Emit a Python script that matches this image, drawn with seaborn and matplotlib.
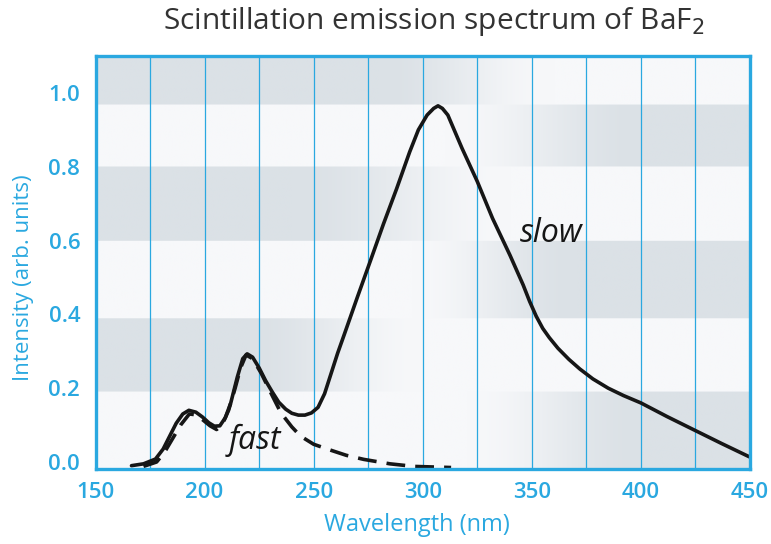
import numpy as np
import pandas as pd
import matplotlib
matplotlib.use("Agg")
import matplotlib.pyplot as plt
import seaborn as sns
from matplotlib.colors import to_rgb

# ---- data ----
slow_wavelength = [166.5, 172, 177.5, 181, 184, 187, 190, 192.8, 196, 199, 202, 204.5,
                   207, 209.5, 212, 215, 217.5, 219.5, 222, 225, 228, 231, 234, 237.2,
                   240, 243, 246, 249, 252, 255, 258, 261, 264, 270, 276, 282,
                   288, 294, 298, 302, 305, 307, 309, 311.5, 318, 325, 332, 340,
                   346, 349, 352, 355, 358, 362, 367, 372, 378, 385, 392, 400,
                   412, 425, 437, 449.7]
slow_intensity = [-0.01, -0.005, 0.008, 0.035, 0.07, 0.105, 0.13, 0.14, 0.135, 0.122, 0.106, 0.097,
                  0.098, 0.12, 0.16, 0.23, 0.28, 0.293, 0.284, 0.255, 0.22, 0.19, 0.162, 0.143,
                  0.132, 0.127, 0.127, 0.133, 0.148, 0.185, 0.24, 0.295, 0.345, 0.446, 0.545, 0.645,
                  0.74, 0.84, 0.9, 0.94, 0.958, 0.965, 0.958, 0.94, 0.85, 0.76, 0.66, 0.56,
                  0.48, 0.435, 0.395, 0.362, 0.337, 0.308, 0.278, 0.252, 0.225, 0.2, 0.18, 0.16,
                  0.123, 0.085, 0.05, 0.014]

fast_wavelength = [172, 178, 181.5, 185, 189, 193, 196, 199, 202.5, 205.5, 208, 211,
                   214, 216.5, 219, 222, 226, 231, 235, 240, 244, 250, 257.8, 265,
                   273, 285, 296, 313]
fast_intensity = [-0.012, 0.0, 0.025, 0.06, 0.10, 0.13, 0.128, 0.115, 0.098, 0.088, 0.1, 0.14,
                  0.2, 0.255, 0.29, 0.28, 0.24, 0.18, 0.133, 0.095, 0.07, 0.048, 0.032, 0.018,
                  0.007, -0.005, -0.012, -0.015]

x_ticks = [150, 200, 250, 300, 350, 400, 450]
y_ticks = [0.0, 0.2, 0.4, 0.6, 0.8, 1.0]

BLUE = "#2aa8e0"
INK = "#161616"

sns.set_theme(style="white")
plt.rcParams["font.family"] = ["Open Sans", "DejaVu Sans"]

fig = plt.figure(figsize=(7.71, 5.44), dpi=100)
ax = fig.add_axes([95.5 / 771, 1 - 469 / 544, (750 - 95.5) / 771, (469 - 56) / 544])
xlim = (150, 450)
ylim = (-0.019, 1.100)
ax.set_xlim(*xlim)
ax.set_ylim(*ylim)

# ---- decorative banded background ----
nx, ny = 600, 400
xs = np.linspace(*xlim, nx)
ys = np.linspace(*ylim, ny)
X, Y = np.meshgrid(xs, ys)
W = np.zeros_like(X)

def ramp(x, a, b):
    t = np.clip((x - a) / (b - a), 0, 1)
    return t * t * (3 - 2 * t)

left_bands = [((0.97, 1.2), 280, 360), ((0.60, 0.80), 240, 340), ((0.19, 0.39), 220, 300)]
right_bands = [((0.80, 0.97), 310, 400), ((0.39, 0.60), 295, 370), ((-0.1, 0.19), 320, 400)]
for (lo, hi), a, b in left_bands:
    m = (Y >= lo) & (Y < hi)
    W = np.where(m, np.maximum(W, 1 - ramp(X, a, b)), W)
for (lo, hi), a, b in right_bands:
    m = (Y >= lo) & (Y < hi)
    W = np.where(m, np.maximum(W, ramp(X, a, b)), W)
base = np.array(to_rgb("#f7f8fa"))
gray = np.array(to_rgb("#dbe1e6"))
img = base[None, None, :] + W[..., None] * (gray - base)[None, None, :]
ax.imshow(img, extent=[xlim[0], xlim[1], ylim[0], ylim[1]], origin="lower",
          aspect="auto", zorder=0, interpolation="bilinear")

# ---- grid ----
ax.set_xticks(x_ticks)
ax.set_xticks(np.arange(175, 450, 25), minor=True)
ax.set_yticks(y_ticks)
ax.set_yticklabels([f"{v:.1f}" for v in y_ticks])
ax.xaxis.grid(True, which="both", color=BLUE, linewidth=0.9, zorder=1)
ax.yaxis.grid(False)
ax.set_axisbelow(False)
ax.tick_params(axis="both", which="both", length=0, colors=BLUE, labelsize=16)
ax.tick_params(axis="x", pad=9)
ax.tick_params(axis="y", pad=11)
for lab in ax.get_xticklabels() + ax.get_yticklabels():
    lab.set_fontweight("semibold")

for s in ax.spines.values():
    s.set_color(BLUE)
    s.set_linewidth(2.4)
    s.set_visible(True)
    s.set_zorder(5)

# ---- curves ----
slow_df = pd.DataFrame({"wavelength": slow_wavelength, "intensity": slow_intensity})
fast_df = pd.DataFrame({"wavelength": fast_wavelength, "intensity": fast_intensity})
sns.lineplot(data=slow_df, x="wavelength", y="intensity", ax=ax, color=INK,
             linewidth=2.6, sort=False, estimator=None, zorder=4)
sns.lineplot(data=fast_df, x="wavelength", y="intensity", ax=ax, color=INK,
             linewidth=2.6, sort=False, estimator=None, zorder=4,
             linestyle=(0, (5.2, 2.8)))
for ln in ax.lines:
    ln.set_clip_on(False)
    ln.set_solid_joinstyle("round")

ax.text(359, 0.618, "slow", fontsize=23, style="italic", color=INK,
        ha="center", va="center", zorder=6)
ax.text(223, 0.058, "fast", fontsize=23, style="italic", color=INK,
        ha="center", va="center", zorder=6)

ax.set_xlabel("Wavelength (nm)", color=BLUE, fontsize=17, fontweight="medium")
ax.set_ylabel("Intensity (arb. units)", color=BLUE, fontsize=16, fontweight="medium")
ax.xaxis.set_label_coords((417 - 95.5) / 654.5, (469 - 513) / 413)
ax.yaxis.set_label_coords((34 - 95.5) / 654.5, (469 - 278) / 413)

fig.text(434 / 771, 1 - 22 / 544, "Scintillation emission spectrum of BaF$_2$",
         ha="center", va="center", fontsize=21.5, color="#333333")

fig.savefig("out.png", dpi=100, facecolor="white")
